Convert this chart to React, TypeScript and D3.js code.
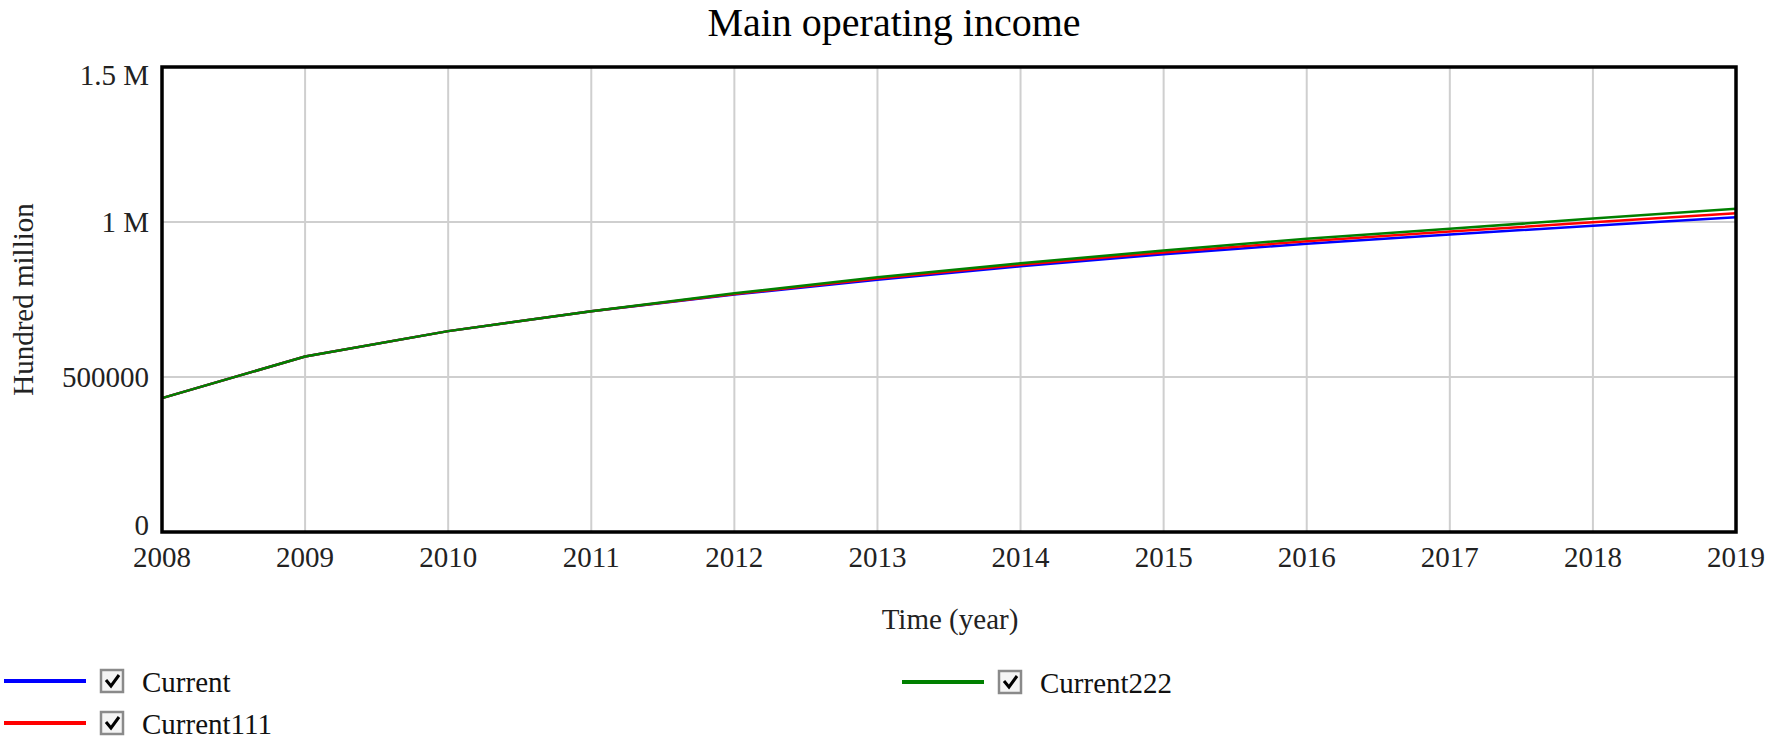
import React from "react";
import * as d3 from "d3";

const years = [2008, 2009, 2010, 2011, 2012, 2013, 2014, 2015, 2016, 2017, 2018, 2019];
const current = [432000, 566000, 648000, 712000, 766000, 814000, 857000, 896000, 930000, 960000, 988000, 1015000];
const current111 = [432000, 566000, 648000, 712000, 768000, 818000, 862000, 902000, 938000, 969000, 999000, 1028000];
const current222 = [432000, 566000, 648000, 712000, 770000, 822000, 867000, 908000, 946000, 978000, 1011000, 1043000];
const yTicks = [0, 500000, 1000000, 1500000];
const yTickLabels = ["0", "500000", "1 M", "1.5 M"];
const seriesNames = ["Current", "Current111", "Current222"];
const seriesColors = ["#0000ff", "#ff0000", "#008000"];

const W = 1772;
const H = 739;
const left = 162, right = 1736, top = 67, bottom = 532;
const FONT = "'Liberation Serif', 'Times New Roman', serif";

export default function App() {
  const x = d3.scaleLinear().domain([2008, 2019]).range([left, right]);
  const y = d3.scaleLinear().domain([0, 1500000]).range([bottom, top]);
  const seriesData = [current, current111, current222];
  const line = d3
    .line<number>()
    .x((_, i) => x(years[i]))
    .y((d) => y(d));

  const legendItems = [
    { name: seriesNames[0], color: seriesColors[0], lx: 4, cy: 681 },
    { name: seriesNames[1], color: seriesColors[1], lx: 4, cy: 723 },
    { name: seriesNames[2], color: seriesColors[2], lx: 902, cy: 682 },
  ];

  return (
    <svg
      width={W}
      height={H}
      style={{ position: "absolute", left: 0, top: 0, background: "#fff" }}
      fontFamily={FONT}
    >
      <rect x={0} y={0} width={W} height={H} fill="#fff" />
      <text x={894} y={36} fontSize={40} textAnchor="middle" fill="#000">
        Main operating income
      </text>
      {/* grid */}
      {years.slice(1, -1).map((yr) => (
        <line key={"vg" + yr} x1={x(yr)} x2={x(yr)} y1={top} y2={bottom} stroke="#cfcfcf" strokeWidth={2} />
      ))}
      {yTicks.slice(1, -1).map((t) => (
        <line key={"hg" + t} x1={left} x2={right} y1={y(t)} y2={y(t)} stroke="#cfcfcf" strokeWidth={2} />
      ))}
      {/* series */}
      {seriesData.map((s, i) => (
        <path key={seriesNames[i]} d={line(s) || ""} fill="none" stroke={seriesColors[i]} strokeWidth={2.5} />
      ))}
      {/* border */}
      <rect x={left} y={top} width={right - left} height={bottom - top} fill="none" stroke="#000" strokeWidth={3.5} />
      {/* y ticks */}
      {yTicks.map((t, i) => {
        const yy = Math.min(Math.max(y(t), top + 8), bottom - 7);
        return (
          <text key={"yt" + t} x={149} y={yy} fontSize={29} textAnchor="end" dominantBaseline="central" fill="#222">
            {yTickLabels[i]}
          </text>
        );
      })}
      {/* x ticks */}
      {years.map((yr) => (
        <text key={"xt" + yr} x={x(yr)} y={567} fontSize={29} textAnchor="middle" fill="#222">
          {yr}
        </text>
      ))}
      <text x={950} y={629} fontSize={29} textAnchor="middle" fill="#222">
        Time (year)
      </text>
      <text
        transform={`translate(33, ${(top + bottom) / 2}) rotate(-90)`}
        fontSize={29}
        textAnchor="middle"
        fill="#222"
      >
        Hundred million
      </text>
      {/* legend */}
      {legendItems.map((it) => (
        <g key={it.name}>
          <line x1={it.lx} x2={it.lx + 82} y1={it.cy} y2={it.cy} stroke={it.color} strokeWidth={4} />
          <rect x={it.lx + 97} y={it.cy - 11} width={22} height={22} fill="#f4f4f4" stroke="#8a8a8a" strokeWidth={2.5} />
          <path
            d={`M${it.lx + 102},${it.cy - 1} L${it.lx + 107},${it.cy + 5} L${it.lx + 115},${it.cy - 6}`}
            fill="none"
            stroke="#000"
            strokeWidth={3}
          />
          <text x={it.lx + 138} y={it.cy + 11} fontSize={29} fill="#111">
            {it.name}
          </text>
        </g>
      ))}
    </svg>
  );
}
